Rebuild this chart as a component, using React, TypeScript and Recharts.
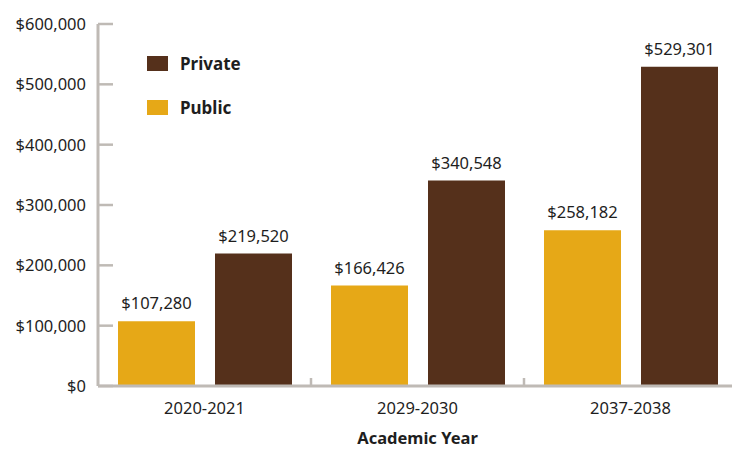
import React from 'react';
import { BarChart, Bar, XAxis, YAxis, LabelList, Legend } from 'recharts';

const years = ['2020-2021', '2029-2030', '2037-2038'];
const publicCost = [107280, 166426, 258182];
const privateCost = [219520, 340548, 529301];
const yTicks = [0, 100000, 200000, 300000, 400000, 500000, 600000];

const data = years.map((year, i) => ({ year, public: publicCost[i], private: privateCost[i] }));

const PRIVATE = '#55301b';
const PUBLIC = '#e6a817';
const AXIS = '#bfbab5';
const TEXT = '#1e1e1e';
const FONT = '"Noto Sans", sans-serif';

const W = 742;
const H = 450;
const M = { top: 24, right: 5, left: 0, bottom: 0 };
const Y_W = 98;
const X_H = 64;
const BAND = (W - M.left - M.right - Y_W) / years.length;

const money = (v: number) => `$${Number(v).toLocaleString('en-US')}`;

const YTick = ({ x, y, payload }: any) => (
  <g>
    <line x1={x + 12} x2={x + 27} y1={y} y2={y} stroke={AXIS} strokeWidth={2.5} />
    <text x={x} y={y} dy={6} textAnchor="end" fill={TEXT} fontSize={16.5} fontFamily={FONT}>
      {money(payload.value)}
    </text>
  </g>
);

const XTick = ({ x, y, payload, index }: any) => {
  const axisY = y - 10;
  return (
    <g>
      {index < years.length - 1 && (
        <line x1={x + BAND / 2} x2={x + BAND / 2} y1={axisY - 8} y2={axisY} stroke={AXIS} strokeWidth={2.5} />
      )}
      <text x={x} y={y} dy={18} textAnchor="middle" fill={TEXT} fontSize={16.5} fontFamily={FONT}>
        {payload.value}
      </text>
    </g>
  );
};

const legendItems = [
  { name: 'Private', color: PRIVATE },
  { name: 'Public', color: PUBLIC },
];

const LegendBox = () => (
  <div style={{ fontFamily: FONT, fontWeight: 700, fontSize: 17, color: TEXT }}>
    {legendItems.map((it) => (
      <div key={it.name} style={{ display: 'flex', alignItems: 'center', height: 44 }}>
        <span style={{ display: 'inline-block', width: 21, height: 15, background: it.color, marginRight: 12 }} />
        <span>{it.name}</span>
      </div>
    ))}
  </div>
);

export default function App() {
  return (
    <div style={{ position: 'absolute', left: 0, top: 0, width: 732, height: H, overflow: 'hidden', background: '#fff' }}>
      <BarChart width={W} height={H} data={data} margin={M} barSize={77} barGap={20}>
        <XAxis
          dataKey="year"
          height={X_H}
          stroke={AXIS}
          strokeWidth={3}
          tickLine={false}
          tickSize={0}
          tickMargin={10}
          tick={<XTick />}
          label={{ value: 'Academic Year', position: 'insideBottom', offset: 6, fill: TEXT, fontSize: 16.5, fontWeight: 700, fontFamily: FONT }}
        />
        <YAxis
          width={Y_W}
          domain={[0, 600000]}
          ticks={yTicks}
          stroke={AXIS}
          strokeWidth={3}
          tickLine={false}
          tickSize={0}
          tickMargin={12}
          tick={<YTick />}
        />
        <Legend
          layout="vertical"
          align="center"
          verticalAlign="middle"
          wrapperStyle={{ top: 41, left: 147, width: 'auto' }}
          content={<LegendBox />}
        />
        <Bar dataKey="public" name="Public" fill={PUBLIC} isAnimationActive={false}>
          <LabelList dataKey="public" position="top" offset={12} formatter={money} fill={TEXT} fontSize={16.5} fontFamily={FONT} />
        </Bar>
        <Bar dataKey="private" name="Private" fill={PRIVATE} isAnimationActive={false}>
          <LabelList dataKey="private" position="top" offset={12} formatter={money} fill={TEXT} fontSize={16.5} fontFamily={FONT} />
        </Bar>
      </BarChart>
    </div>
  );
}
